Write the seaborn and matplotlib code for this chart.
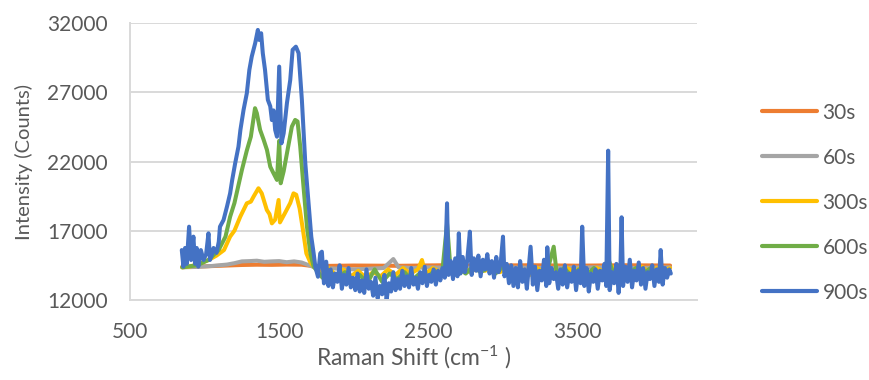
import pandas as pd
import seaborn as sns
import matplotlib.pyplot as plt

# Raman spectra for different exposure times
labels = ["30s", "60s", "300s", "600s", "900s"]
colors = ["#ED7D31", "#A5A5A5", "#FFC000", "#70AD47", "#4472C4"]

x_30 = [850, 1000, 1150, 1250, 1350, 1450, 1550, 1650, 1720, 1800, 2000, 2300,
        2600, 2900, 3200, 3500, 3800, 4120]
y_30 = [14400, 14420, 14480, 14520, 14540, 14530, 14550, 14540, 14450, 14450, 14480,
        14460, 14500, 14480, 14500, 14470, 14500, 14480]

x_60 = [850, 950, 1050, 1150, 1200, 1250, 1300, 1350, 1400, 1450, 1500, 1550, 1600,
        1650, 1700, 1760, 1800, 1900, 2000, 2100, 2200, 2265, 2300, 2400, 2500, 2700,
        3000, 3300, 3600, 3900, 4120]
y_60 = [14350, 14380, 14450, 14550, 14650, 14780, 14800, 14830, 14750, 14780, 14800,
        14720, 14780, 14700, 14500, 14250, 14300, 14250, 14200, 14250, 14300, 14950,
        14350, 14300, 14350, 14300, 14350, 14300, 14350, 14300, 14350]

x_300 = [850, 900, 960, 1026, 1080, 1130, 1171, 1200, 1239, 1283, 1310, 1328, 1361,
         1383, 1400, 1417, 1435, 1451, 1473, 1496, 1505, 1520, 1540, 1574, 1596, 1614,
         1637, 1660, 1682, 1709, 1731, 1760,
         1780, 1830, 1880, 1930, 1980, 2030, 2080, 2130, 2180, 2230, 2280, 2330, 2380,
         2430, 2457, 2480, 2530, 2580, 2630, 2680, 2730, 2780, 2830, 2880, 2930, 2980,
         3030, 3080, 3130, 3180, 3230, 3280, 3330, 3380, 3430, 3480, 3530, 3580, 3630,
         3680, 3730, 3780, 3830, 3880, 3930, 3980, 4030, 4080, 4120]
y_300 = [14350, 14400, 14600, 14880, 15200, 15600, 16570, 17000, 18010, 18980, 19100,
         19460, 20070, 19700, 19100, 18500, 18200, 17530, 17800, 19220, 17600, 17900,
         18300, 19000, 19700, 19600, 18600, 17000, 15360, 14700, 14400, 14200,
         13900, 14300, 13800, 14200, 13700, 14100, 13600, 14000, 13700, 14200, 13800,
         14300, 13900, 14200, 14880, 13900, 14300, 14000, 14400, 14100, 14400, 14000,
         14300, 14100, 14400, 14000, 14300, 13900, 14200, 13800, 14300, 13900, 14200,
         13800, 14300, 14000, 14400, 13900, 14300, 14000, 14400, 13900, 14300, 14000,
         14400, 14000, 14300, 14100, 14300]

x_600 = [850, 950, 1026, 1094, 1140, 1171, 1200, 1250, 1283, 1310, 1338, 1350, 1372,
         1395, 1418, 1440, 1462, 1485, 1500, 1510, 1530, 1552, 1585, 1607, 1623, 1641,
         1663, 1686, 1709, 1731, 1760,
         1790, 1840, 1890, 1940, 1990, 2040, 2090, 2140, 2190, 2240, 2290, 2340, 2390,
         2440, 2490, 2540, 2590, 2625, 2650, 2700, 2750, 2800, 2850, 2900, 2950, 3000,
         3050, 3100, 3150, 3200, 3250, 3300, 3340, 3360, 3410, 3460, 3510, 3560, 3610,
         3660, 3705, 3740, 3790, 3840, 3890, 3940, 3990, 4040, 4090, 4120]
y_600 = [14350, 14500, 14880, 15600, 16570, 18010, 19000, 21390, 22800, 23800, 25860,
         25500, 24290, 23600, 22840, 21630, 21150, 20670, 23500, 20430, 21300, 22600,
         24530, 25010, 24900, 23080, 20180, 17290, 15360, 14400, 14000,
         13600, 14100, 13400, 14000, 13300, 13800, 13200, 14200, 13300, 13900, 13500,
         14000, 13400, 13900, 13600, 14100, 13700, 17500, 14000, 14300, 13900, 14400,
         14000, 14300, 13900, 14400, 13800, 14200, 13700, 14300, 13800, 14200, 15840,
         13900, 14300, 13700, 14200, 13800, 14300, 13700, 15000, 13900, 14400, 13800,
         14300, 13900, 14300, 13800, 14200, 14000]

x_900 = [847, 858, 869, 880, 896, 909, 925, 936, 947, 958, 975, 993, 1010, 1026, 1036,
         1050, 1060, 1080, 1095, 1103, 1127, 1150, 1171, 1185, 1205, 1227, 1240, 1261,
         1283, 1300, 1316, 1339, 1357, 1365, 1379, 1390, 1405, 1424, 1440, 1451, 1462,
         1473, 1485, 1500, 1515, 1530, 1552, 1574, 1590, 1612, 1630, 1641, 1652, 1663,
         1675, 1693, 1704, 1715, 1731, 1742, 1760, 1775, 1786,
         1800, 1815, 1830, 1845, 1860, 1875, 1890, 1905, 1920, 1935, 1950, 1965, 1980,
         1995, 2010, 2025, 2040, 2055, 2070, 2085, 2100, 2115, 2130, 2145, 2160, 2175,
         2190, 2205, 2220, 2235, 2250, 2265, 2280, 2295, 2310, 2325, 2340, 2355, 2370,
         2385, 2400, 2415, 2430, 2445, 2460, 2475, 2490, 2505, 2520, 2535, 2550, 2565,
         2580, 2595, 2610, 2625, 2635, 2650, 2665, 2680, 2695, 2704, 2715, 2730, 2745,
         2760, 2778, 2790, 2805, 2820, 2835, 2850, 2865, 2880, 2895, 2910, 2925, 2940,
         2955, 2970, 2985, 3000, 3010, 3025, 3040, 3055, 3070, 3085, 3100, 3115, 3130,
         3145, 3160, 3175, 3185, 3200, 3215, 3230, 3245, 3260, 3275, 3290, 3297, 3310,
         3325, 3340, 3355, 3370, 3385, 3400, 3415, 3430, 3445, 3460, 3475, 3490, 3505,
         3520, 3531, 3545, 3560, 3575, 3590, 3605, 3620, 3635, 3650, 3665, 3680, 3692,
         3705, 3715, 3730, 3745, 3760, 3775, 3787, 3795, 3805, 3820, 3835, 3850, 3865,
         3880, 3895, 3910, 3925, 3940, 3955, 3970, 3985, 4000, 4015, 4030, 4045, 4057,
         4070, 4085, 4100, 4115, 4125]
y_900 = [15600, 14400, 15750, 14600, 17290, 14880, 16570, 14600, 15750, 14400, 15600,
         14880, 15300, 16810, 14880, 15300, 15750, 15400, 16200, 17290, 17775, 18740,
         19700, 20670, 21880, 23080, 24290, 25730, 26940, 28630, 29590, 30560, 31520,
         30800, 31280, 29840, 28630, 26460, 26000, 25000, 25700, 24290, 23800, 28870,
         23320, 24050, 26240, 27900, 30080, 30310, 29840, 28140, 26460, 24290, 21880,
         19460, 18010, 16570, 15360, 14400, 13670, 15360, 15480,
         13190, 14760, 13000, 14200, 12900, 13900, 13300, 14500, 12800, 13800, 13100,
         14300, 12900, 13600, 12700, 13900, 12600, 13400, 12500, 14200, 12800, 13300,
         12300, 13600, 12100, 13000, 12400, 13800, 12000, 13200, 12600, 14000, 12700,
         13500, 12800, 14100, 13000, 13700, 12900, 14300, 13100, 13600, 12800, 14000,
         13200, 14400, 13000, 13800, 13300, 14200, 13100, 14100, 13400, 14300, 13600,
         18980, 13800, 14800, 13500, 15000, 13700, 16810, 13900, 15100, 14000, 14800,
         16930, 13800, 15000, 14100, 15200, 13700, 14900, 14200, 15300, 13900, 14800,
         13600, 15100, 14000, 14700, 16570, 13700, 14600, 13200, 14500, 13000, 14300,
         12900, 14800, 13300, 14200, 12800, 14600, 15840, 13100, 14400, 12700, 14100,
         13400, 14900, 13000, 15800, 13200, 14300, 13500, 14000, 12800, 14200, 13100,
         14500, 12900, 13900, 13300, 14400, 12700, 14100, 13200, 17290, 13000, 14300,
         12600, 13900, 13300, 14200, 12800, 14100, 13400, 14600, 13000, 22790, 12700,
         14000, 13200, 14600, 12500, 14200, 17970, 13000, 14400, 13300, 14900, 12900,
         14100, 13400, 14700, 13100, 14300, 12800, 14000, 13500, 14500, 13000, 14200,
         13300, 15600, 13100, 14300, 13600, 14200, 13900]

x_ticks = [500, 1500, 2500, 3500]
y_ticks = [12000, 17000, 22000, 27000, 32000]

series = [(x_30, y_30), (x_60, y_60), (x_300, y_300), (x_600, y_600), (x_900, y_900)]

sns.set_style("white")
plt.rcParams["font.family"] = ["Lato", "DejaVu Sans"]
plt.rcParams["mathtext.fontset"] = "custom"
plt.rcParams["mathtext.rm"] = "Lato"
plt.rcParams["mathtext.it"] = "Lato:italic"

text_color = "#595959"
grid_color = "#d9d9d9"
fs = 15

fig, ax = plt.subplots(figsize=(8.69, 3.8), dpi=100)
fig.subplots_adjust(left=0.1496, right=0.802, top=0.9387, bottom=0.211)

for (xs, ys), lab, col in zip(series, labels, colors):
    df = pd.DataFrame({"shift": xs, "intensity": ys})
    sns.lineplot(x="shift", y="intensity", data=df, ax=ax, color=col, label=lab,
                 linewidth=2.9, sort=False, estimator=None)

ax.set_xlim(500, 4300)
ax.set_ylim(12000, 32000)
ax.set_xticks(x_ticks)
ax.set_yticks(y_ticks)
ax.yaxis.grid(True, color=grid_color, linewidth=1.4)
ax.set_axisbelow(True)
for s in ["top", "right"]:
    ax.spines[s].set_visible(False)
ax.spines["left"].set_color(grid_color)
ax.spines["left"].set_linewidth(1.4)
ax.spines["bottom"].set_color(grid_color)
ax.spines["bottom"].set_linewidth(1.4)
ax.tick_params(length=0, pad=16, labelsize=fs, labelcolor=text_color)

ax.set_xlabel("Raman Shift (cm$^{\\mathrm{-1}}$ )", fontsize=16.5, color=text_color)
ax.set_ylabel("Intensity (Counts)", fontsize=14.5, color=text_color)
ax.xaxis.set_label_coords(0.5, -0.16)
ax.yaxis.set_label_coords(-0.171, 0.5)

leg = ax.legend(loc="upper left", bbox_to_anchor=(0.877, 0.73), bbox_transform=fig.transFigure,
                frameon=False, fontsize=fs, labelcolor=text_color, handlelength=2.65,
                handletextpad=0.25, labelspacing=1.2, borderpad=0, borderaxespad=0)
for line in leg.get_lines():
    line.set_linewidth(3)

fig.savefig("out.png", dpi=100)
